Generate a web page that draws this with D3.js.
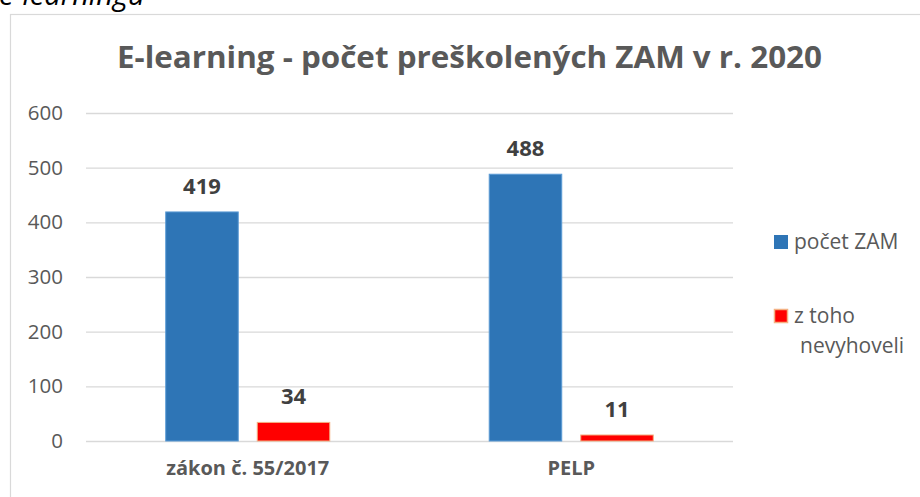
<!DOCTYPE html>
<html>
<head>
<meta charset="utf-8">
<script src="https://cdn.jsdelivr.net/npm/d3@7"></script>
<style>
  body { margin: 0; background: #fff; }
  text { font-family: "Open Sans", "Noto Sans", sans-serif; }
</style>
</head>
<body>
<div id="chart"></div>
<script>
// chart data
let categories = ["zákon č. 55/2017", "PELP"];
let seriesNames = ["počet ZAM", "z toho nevyhoveli"];
let pocetZam = [419, 488];
let nevyhoveli = [34, 11];
let yTicks = [0, 100, 200, 300, 400, 500, 600];

let svgWidth = 920;
let svgHeight = 497;

let plot = { left: 86, right: 733, top: 113, bottom: 441 };

var svg = d3.select("#chart")
    .append("svg")
    .attr("width", svgWidth)
    .attr("height", svgHeight);

// cut-off caption above the chart
svg.append("text")
    .attr("x", -1)
    .attr("y", 5)
    .attr("font-size", "29px")
    .attr("font-style", "italic")
    .attr("fill", "#000")
    .text("e-learningu");

// chart frame
svg.append("rect")
    .attr("x", 10.5)
    .attr("y", 14.5)
    .attr("width", 920)
    .attr("height", 500)
    .attr("fill", "none")
    .attr("stroke", "#d9d9d9")
    .attr("stroke-width", 1.2);

// title
svg.append("text")
    .attr("x", 469.5)
    .attr("y", 68)
    .attr("text-anchor", "middle")
    .attr("font-size", "30px")
    .attr("font-weight", "bold")
    .attr("fill", "#595959")
    .attr("textLength", 705)
    .attr("lengthAdjust", "spacingAndGlyphs")
    .text("E-learning - počet preškolených ZAM v r. 2020");

// scales
var yScale = d3.scaleLinear()
    .domain([0, 600])
    .range([plot.bottom, plot.top]);

var x0 = d3.scaleBand()
    .domain(categories)
    .range([plot.left, plot.right])
    .padding(0);

var x1 = d3.scaleBand()
    .domain(seriesNames)
    .range([0, x0.bandwidth()])
    .paddingInner(0.2077)
    .paddingOuter(0.871);

// gridlines + y axis
var yAxis = d3.axisLeft(yScale)
    .tickValues(yTicks)
    .tickSize(-(plot.right - plot.left))
    .tickPadding(23);

var yg = svg.append("g")
    .attr("transform", `translate(${plot.left}, 0)`)
    .call(yAxis);
yg.select(".domain").remove();
yg.selectAll("line").attr("stroke", "#d9d9d9").attr("stroke-width", 1.3);
yg.selectAll("text")
    .attr("font-size", "20.5px")
    .attr("fill", "#595959")
    .attr("font-family", "Open Sans, sans-serif");

// x axis labels
var xAxis = d3.axisBottom(x0).tickSize(0).tickPadding(20);
var xg = svg.append("g")
    .attr("transform", `translate(0, ${plot.bottom})`)
    .call(xAxis);
xg.select(".domain").remove();
xg.selectAll("text")
    .attr("font-size", "20px")
    .attr("font-weight", "bold")
    .attr("fill", "#595959")
    .attr("font-family", "Open Sans, sans-serif");

// bars
var rows = categories.map((c, i) => [
    { cat: c, series: seriesNames[0], value: pocetZam[i] },
    { cat: c, series: seriesNames[1], value: nevyhoveli[i] }
]);
var fills = { "počet ZAM": "#2e75b6", "z toho nevyhoveli": "#ff0000" };
var strokes = { "počet ZAM": "#5b9bd5", "z toho nevyhoveli": "#f4b183" };

var groups = svg.selectAll(".cat")
    .data(rows)
    .enter()
    .append("g")
    .attr("class", "cat")
    .attr("transform", d => `translate(${x0(d[0].cat)}, 0)`);

groups.selectAll("rect")
    .data(d => d)
    .enter()
    .append("rect")
    .attr("x", d => x1(d.series))
    .attr("y", d => yScale(d.value))
    .attr("width", x1.bandwidth())
    .attr("height", d => yScale(0) - yScale(d.value))
    .attr("fill", d => fills[d.series])
    .attr("stroke", d => strokes[d.series])
    .attr("stroke-width", 1);

groups.selectAll(".val")
    .data(d => d)
    .enter()
    .append("text")
    .attr("class", "val")
    .attr("x", d => x1(d.series) + x1.bandwidth() / 2)
    .attr("y", d => yScale(d.value) - 18)
    .attr("text-anchor", "middle")
    .attr("font-size", "22px")
    .attr("font-weight", "bold")
    .attr("fill", "#404040")
    .text(d => d.value);

// legend
var legend = svg.append("g");
legend.append("rect")
    .attr("x", 774).attr("y", 235)
    .attr("width", 14).attr("height", 14)
    .attr("fill", fills["počet ZAM"]);
legend.append("text")
    .attr("x", 794).attr("y", 249)
    .attr("font-size", "21px")
    .attr("fill", "#595959")
    .text("počet ZAM");

legend.append("rect")
    .attr("x", 774.5).attr("y", 309.5)
    .attr("width", 13).attr("height", 13)
    .attr("fill", fills["z toho nevyhoveli"])
    .attr("stroke", strokes["z toho nevyhoveli"])
    .attr("stroke-width", 1.5);
legend.append("text")
    .attr("x", 794).attr("y", 323)
    .attr("font-size", "21px")
    .attr("fill", "#595959")
    .text("z toho");
legend.append("text")
    .attr("x", 800).attr("y", 353)
    .attr("font-size", "21px")
    .attr("fill", "#595959")
    .text("nevyhoveli");
</script>
</body>
</html>
